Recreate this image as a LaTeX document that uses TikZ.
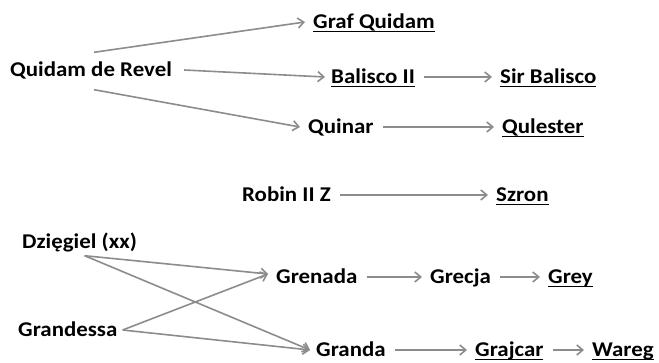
\documentclass[tikz,border=0pt]{standalone}
\usepackage{fontspec}
\setmainfont{Carlito}
\usetikzlibrary{arrows.meta}
\newcommand{\ulname}[1]{\setbox0\hbox{#1}\rlap{\rule[-3.6pt]{\wd0}{1.4pt}}\box0}
\tikzset{
    horse/.style={anchor=west, inner sep=0, text height=13pt, text depth=0pt,
        font=\fontsize{21}{25}\selectfont\bfseries, xscale=1.09, transform shape},
    arr/.style={draw=gray!90, line width=1.6pt, -{Straight Barb[length=6pt,width=10pt]}},
    hop/.style={arr, shorten <=9pt, shorten >=8pt}
}
\begin{document}
\begin{tikzpicture}[x=1pt, y=-1pt]
    \useasboundingbox (0,0) rectangle (659,363);
    \node[horse] (qdr) at (10,70) {Quidam de Revel};
    \node[horse] (graf) at (313,22) {\ulname{Graf Quidam}};
    \node[horse] (bal) at (331,77) {\ulname{Balisco II}};
    \node[horse] (sirbal) at (500,77) {\ulname{Sir Balisco}};
    \node[horse] (quinar) at (308,127) {Quinar};
    \node[horse] (qul) at (502,127) {\ulname{Qulester}};
    \node[horse] (robin) at (242,195) {Robin II Z};
    \node[horse] (szron) at (496,195) {\ulname{Szron}};
    \node[horse] (dzi) at (22,242) {Dzięgiel (xx)};
    \node[horse] (grand) at (18,330) {Grandessa};
    \node[horse] (grenada) at (276,277) {Grenada};
    \node[horse] (grecja) at (430,277) {Grecja};
    \node[horse] (grey) at (548,277) {\ulname{Grey}};
    \node[horse] (granda) at (316,350) {Granda};
    \node[horse] (grajcar) at (475,350) {\ulname{Grajcar}};
    \node[horse] (wareg) at (592,350) {\ulname{Wareg}};
    % fan-out points
    \coordinate (dziout) at ([xshift=5pt,yshift=-7pt]dzi.south);
    \coordinate (grandout) at ([xshift=5pt]grand.east);

    \draw[arr] ([xshift=3pt,yshift=11pt]qdr.north) -- ([xshift=-8pt]graf.west);
    \draw[arr] ([xshift=12pt]qdr.east) -- ([xshift=-6pt]bal.west);
    \draw[arr] ([xshift=3pt,yshift=-13pt]qdr.south) -- ([xshift=-8pt]quinar.west);
    \draw[hop] (bal) -- (sirbal);
    \draw[hop] (quinar) -- (qul);
    \draw[hop] (robin) -- (szron);
    \draw[arr] (dziout) -- ([xshift=-8pt,yshift=3pt]grenada.west);
    \draw[arr] (dziout) -- ([xshift=-6pt]granda.west);
    \draw[arr] (grandout) -- ([xshift=-8pt,yshift=3pt]grenada.west);
    \draw[arr] (grandout) -- ([xshift=-6pt]granda.west);
    \draw[hop] (grenada) -- (grecja);
    \draw[hop] (grecja) -- (grey);
    \draw[hop] (granda) -- (grajcar);
    \draw[hop] (grajcar) -- (wareg);
\end{tikzpicture}
\end{document}
